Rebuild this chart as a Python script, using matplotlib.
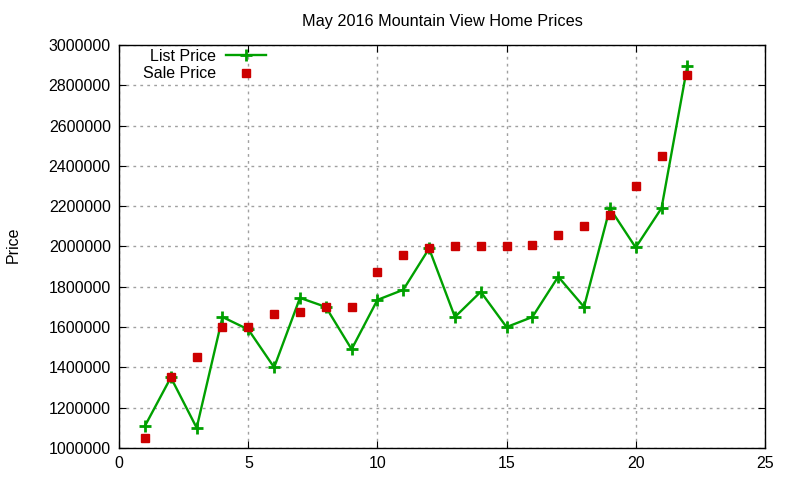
import numpy as np
import matplotlib.pyplot as plt

days = list(range(1, 23))
list_price = [1110000, 1350000, 1100000, 1650000, 1588000, 1400000, 1745000, 1700000,
              1490000, 1735000, 1785000, 1990000, 1650000, 1775000, 1600000, 1650000,
              1850000, 1700000, 2190000, 1995000, 2190000, 2895000]
sale_price = [1050000, 1350000, 1450000, 1600000, 1600000, 1665000, 1675000, 1700000,
              1700000, 1875000, 1960000, 1990000, 2000000, 2000000, 2000000, 2005000,
              2055000, 2100000, 2155000, 2300000, 2450000, 2850000]

plt.rcParams['font.family'] = ['Liberation Sans', 'DejaVu Sans']

fig = plt.figure(figsize=(8, 4.8), dpi=100)
ax = fig.add_axes([0.149, 0.0667, 0.807, 0.8396])

ax.plot(days, list_price, color='#00a000', lw=1.7, marker='+', ms=8, mew=2,
        label='List Price', zorder=2)
ax.plot(days, sale_price, color='#cc0000', ls='none', marker='s', ms=6,
        label='Sale Price', zorder=3)

ax.set_xlim(0, 25)
ax.set_ylim(1000000, 3000000)
ax.set_xticks(np.arange(0, 26, 5))
ax.set_yticks(np.arange(1000000, 3000001, 200000))
ax.set_yticklabels([str(v) for v in range(1000000, 3000001, 200000)])
ax.tick_params(direction='in', top=True, right=True, labelsize=11.5, length=5, pad=6)
ax.grid(True, color='#a0a0a0', ls=(0, (2, 3)), lw=1)
for s in ax.spines.values():
    s.set_linewidth(1)

ax.set_title('May 2016 Mountain View Home Prices', fontsize=11.7, pad=14)
fig.text(0.017, 0.49, 'Price', rotation=90, fontsize=11.5, ha='center', va='center')

ax.legend(loc='upper left', bbox_to_anchor=(0.169, 0.915), bbox_transform=fig.transFigure,
          frameon=False, markerfirst=False, fontsize=11.5, handlelength=2.5,
          handletextpad=0.6, labelspacing=0.15, borderpad=0)

fig.savefig('out.png', dpi=100)
